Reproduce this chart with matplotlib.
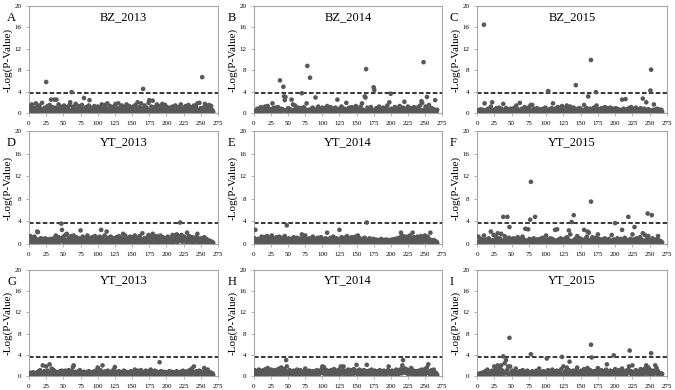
import matplotlib
matplotlib.use("Agg")
import matplotlib.pyplot as plt
import numpy as np

# -log10(p) per marker, marker index 1..268 along x (rows of 10)
panel_a = [
    0.8, 1.2, 0.3, 1.6, 0.5, 0.2, 1.0, 0.4, 0.7, 1.8,
    0.3, 1.1, 0.6, 0.2, 1.4, 0.9, 0.1, 0.5, 1.9, 0.4,
    0.7, 0.2, 1.0, 0.3, 5.8, 0.6, 1.3, 0.2, 0.9, 1.5,
    0.4, 2.5, 0.3, 1.1, 0.2, 0.7, 2.5, 0.5, 1.0, 2.5,
    0.3, 0.8, 1.6, 0.2, 0.5, 1.2, 0.4, 0.1, 0.9, 0.6,
    1.4, 0.3, 0.7, 0.2, 1.1, 0.5, 0.8, 0.3, 1.5, 2.0,
    0.4, 3.9, 0.6, 1.2, 0.2, 0.9, 0.3, 1.7, 0.5, 0.1,
    0.8, 1.3, 0.2, 0.6, 1.0, 0.3, 1.5, 0.4, 0.7, 2.8,
    0.2, 0.9, 1.1, 0.3, 0.6, 0.2, 1.4, 2.4, 0.5, 0.8,
    0.3, 1.0, 0.1, 0.6, 1.3, 0.4, 0.2, 0.9, 0.5, 1.2,
    0.3, 0.7, 1.1, 0.2, 0.5, 1.6, 0.4, 0.8, 0.2, 1.0,
    1.5, 0.3, 0.6, 1.8, 0.2, 0.9, 0.4, 1.3, 0.6, 0.1,
    0.8, 0.3, 1.2, 0.5, 0.2, 1.7, 0.4, 0.9, 0.3, 1.8,
    0.6, 0.2, 1.0, 0.4, 1.4, 0.7, 0.2, 0.5, 1.1, 0.3,
    0.9, 1.6, 0.2, 0.6, 0.4, 1.3, 0.3, 0.8, 0.5, 1.0,
    0.2, 1.2, 0.7, 0.3, 1.5, 0.4, 0.9, 2.0, 0.2, 0.6,
    1.1, 0.3, 1.8, 0.5, 0.8, 4.5, 0.4, 1.4, 0.2, 0.7,
    1.0, 0.3, 0.6, 1.9, 2.4, 0.5, 0.2, 1.2, 0.4, 2.3,
    0.7, 0.3, 1.1, 0.5, 0.2, 1.6, 0.8, 0.4, 1.0, 0.3,
    1.3, 0.6, 0.2, 1.7, 0.4, 0.9, 0.3, 1.5, 0.7, 0.2,
    1.1, 0.4, 0.8, 0.2, 0.6, 1.0, 0.3, 0.5, 1.2, 0.4,
    0.2, 0.7, 1.4, 0.3, 0.9, 0.5, 0.2, 1.1, 0.6, 0.3,
    1.6, 0.4, 0.8, 0.2, 1.0, 0.5, 0.3, 1.3, 0.7, 0.2,
    0.9, 1.5, 0.4, 0.6, 0.2, 1.1, 0.3, 0.8, 0.5, 1.4,
    0.3, 0.7, 1.2, 0.2, 1.8, 0.6, 0.4, 1.9, 0.3, 0.9,
    0.5, 6.7, 0.2, 1.0, 0.4, 1.7, 0.6, 0.3, 1.2, 0.8,
    0.4, 1.5, 0.2, 0.7, 1.3, 0.3, 0.5, 0.2,
]

panel_b = [
    0.3, 0.1, 0.5, 0.2, 0.8, 0.4, 0.1, 0.6, 0.3, 1.1,
    0.2, 0.5, 0.9, 0.1, 0.4, 1.2, 0.3, 0.6, 0.2, 1.3,
    0.4, 0.1, 0.7, 0.3, 0.5, 0.2, 1.8, 0.9, 0.1, 0.4,
    1.0, 0.2, 0.6, 0.3, 1.1, 0.1, 0.5, 6.1, 0.8, 0.2,
    0.4, 0.7, 4.9, 3.1, 2.4, 3.0, 0.3, 0.6, 0.2, 0.9,
    0.4, 0.1, 0.7, 0.3, 2.5, 0.5, 1.6, 0.2, 0.6, 1.4,
    0.3, 0.8, 0.1, 0.5, 1.0, 0.2, 0.6, 0.4, 0.9, 3.7,
    0.2, 0.5, 1.1, 0.3, 0.7, 0.1, 1.8, 8.8, 0.4, 0.6,
    0.3, 6.6, 0.2, 0.8, 0.5, 1.0, 0.1, 0.4, 0.7, 2.9,
    0.3, 0.6, 0.2, 1.2, 0.4, 0.1, 0.5, 0.8, 0.3, 1.0,
    0.2, 0.6, 0.4, 0.9, 0.1, 0.5, 1.3, 0.3, 0.7, 0.2,
    0.4, 1.1, 0.3, 0.6, 0.1, 0.8, 0.5, 0.2, 1.0, 0.4,
    0.7, 2.5, 0.3, 0.5, 0.1, 0.9, 0.4, 1.2, 0.2, 0.6,
    0.3, 0.8, 0.5, 0.1, 1.9, 0.4, 0.7, 0.2, 1.0, 0.3,
    0.6, 0.2, 1.1, 0.4, 0.1, 0.5, 0.9, 0.3, 1.3, 0.2,
    0.7, 0.4, 0.1, 0.8, 0.3, 1.2, 0.5, 1.8, 0.2, 0.6,
    0.4, 3.1, 2.9, 8.2, 0.3, 1.0, 0.5, 0.2, 0.8, 0.4,
    1.1, 0.3, 0.6, 0.2, 4.8, 4.3, 0.5, 0.1, 0.9, 0.4,
    0.7, 0.2, 1.2, 0.5, 0.3, 0.8, 0.1, 0.6, 1.0, 0.3,
    0.5, 0.2, 0.9, 0.4, 1.4, 0.1, 0.6, 2.0, 0.3, 3.6,
    0.8, 0.4, 0.1, 0.7, 0.3, 1.1, 0.5, 0.2, 0.9, 0.4,
    0.6, 0.2, 1.3, 0.4, 0.1, 0.8, 0.5, 1.0, 0.3, 2.1,
    0.4, 0.7, 0.2, 0.5, 1.2, 0.3, 0.1, 0.6, 0.9, 0.4,
    0.2, 0.8, 0.5, 1.1, 0.3, 0.6, 0.1, 0.4, 1.0, 0.2,
    0.7, 0.3, 1.4, 0.5, 2.2, 1.9, 0.4, 9.5, 0.6, 0.2,
    1.2, 0.3, 3.0, 0.8, 0.4, 1.5, 0.2, 0.6, 0.3, 0.9,
    0.5, 0.1, 0.7, 0.3, 2.4, 0.4, 0.2, 0.6,
]

panel_c = [
    0.2, 0.5, 0.1, 0.3, 0.7, 0.2, 0.4, 0.1, 0.6, 16.5,
    1.8, 0.3, 0.1, 0.5, 0.2, 0.8, 0.4, 0.1, 0.6, 1.2,
    0.3, 2.0, 0.2, 0.5, 0.1, 0.7, 0.4, 0.9, 0.2, 0.6,
    0.3, 1.0, 0.1, 0.5, 0.8, 0.2, 0.4, 1.7, 0.3, 0.6,
    0.1, 0.9, 0.4, 0.2, 0.7, 0.3, 0.5, 0.1, 0.8, 0.4,
    0.2, 0.6, 0.3, 1.0, 0.1, 0.5, 1.4, 0.2, 0.7, 0.4,
    0.3, 1.9, 0.5, 0.1, 0.8, 0.2, 0.6, 0.4, 1.1, 0.3,
    0.7, 0.2, 0.5, 0.9, 0.1, 1.2, 0.4, 1.5, 0.3, 1.5,
    0.6, 0.2, 0.8, 0.4, 0.1, 0.5, 0.9, 0.3, 0.6, 0.2,
    0.4, 0.7, 0.1, 0.5, 0.3, 0.8, 0.2, 0.6, 1.0, 0.4,
    0.2, 0.5, 4.1, 0.3, 0.7, 0.1, 0.4, 0.9, 0.2, 1.8,
    0.5, 0.3, 0.8, 0.1, 0.6, 0.4, 1.1, 0.2, 0.5, 0.3,
    0.7, 0.1, 1.3, 0.4, 0.2, 0.6, 0.9, 0.3, 0.5, 1.4,
    0.2, 0.8, 0.4, 0.1, 1.2, 0.6, 0.3, 0.7, 0.2, 1.0,
    0.5, 0.3, 5.2, 0.4, 0.1, 0.8, 0.6, 0.2, 0.9, 0.4,
    0.3, 0.6, 0.1, 0.5, 1.5, 0.2, 0.7, 0.4, 0.9, 0.3,
    3.1, 0.5, 0.2, 0.8, 9.9, 0.4, 0.6, 0.1, 1.0, 0.3,
    0.5, 3.9, 1.4, 0.2, 0.7, 0.4, 0.1, 0.6, 0.3, 0.9,
    0.2, 0.5, 0.8, 0.3, 1.1, 0.1, 0.6, 0.4, 0.9, 0.2,
    0.7, 0.3, 1.0, 0.5, 0.1, 0.4, 0.8, 0.2, 0.6, 0.3,
    0.9, 0.1, 0.5, 0.7, 0.3, 0.2, 0.6, 0.4, 0.1, 2.5,
    0.4, 0.8, 0.2, 0.5, 2.6, 0.3, 0.7, 0.1, 0.4, 0.9,
    0.2, 0.6, 1.1, 0.3, 0.5, 0.1, 0.8, 0.4, 0.2, 1.0,
    0.5, 0.3, 0.7, 0.1, 0.6, 0.4, 0.9, 0.2, 0.5, 2.7,
    0.3, 0.8, 0.1, 0.6, 2.0, 0.4, 0.2, 0.7, 0.3, 0.5,
    4.2, 8.1, 0.4, 0.2, 0.6, 1.6, 0.3, 0.1, 0.5, 0.8,
    0.2, 0.4, 0.7, 0.3, 0.5, 0.1, 0.6, 0.2,
]

panel_d = [
    0.5, 1.4, 0.2, 0.8, 1.1, 0.3, 0.6, 1.3, 0.4, 0.9,
    0.2, 2.2, 2.1, 0.5, 0.8, 0.3, 1.0, 0.6, 0.2, 0.9,
    0.4, 0.7, 0.3, 1.0, 0.5, 0.2, 0.8, 0.4, 0.6, 0.3,
    0.9, 0.2, 0.5, 0.7, 0.3, 1.0, 0.4, 0.6, 1.5, 0.2,
    0.8, 0.4, 1.2, 0.3, 0.6, 1.0, 3.6, 2.5, 0.5, 1.3,
    0.3, 0.8, 1.6, 0.4, 1.8, 0.2, 0.7, 1.1, 0.5, 0.3,
    1.4, 0.6, 0.2, 0.9, 1.5, 0.4, 0.7, 0.3, 1.2, 0.5,
    0.8, 0.2, 1.0, 0.4, 2.4, 0.6, 0.3, 1.3, 0.5, 0.9,
    0.2, 1.1, 0.4, 0.7, 1.5, 0.3, 0.6, 1.0, 0.2, 0.8,
    0.5, 1.2, 0.3, 0.7, 0.4, 1.4, 0.2, 0.9, 0.6, 1.1,
    0.3, 0.8, 1.3, 0.5, 2.5, 0.2, 1.0, 0.6, 0.4, 1.5,
    0.7, 0.3, 2.2, 0.5, 1.1, 0.2, 0.8, 0.4, 1.3, 0.6,
    0.3, 0.9, 0.5, 1.0, 0.2, 0.7, 1.2, 0.4, 0.8, 0.3,
    1.4, 0.6, 0.2, 1.1, 0.5, 0.9, 1.8, 0.3, 0.7, 1.5,
    0.4, 0.8, 0.2, 1.0, 0.6, 0.3, 1.3, 0.5, 0.9, 0.2,
    1.2, 0.4, 0.7, 1.5, 0.3, 0.8, 0.5, 1.1, 0.2, 0.6,
    1.4, 0.4, 0.9, 0.3, 1.9, 0.6, 0.2, 1.0, 0.5, 0.8,
    0.3, 1.2, 0.6, 1.6, 0.4, 0.9, 0.2, 1.3, 0.7, 1.8,
    0.5, 1.0, 0.3, 0.8, 1.4, 0.2, 0.6, 1.1, 0.4, 0.9,
    1.5, 0.3, 0.7, 0.5, 1.2, 0.2, 0.8, 0.4, 1.0, 0.6,
    0.3, 1.3, 0.5, 0.9, 0.2, 1.1, 0.7, 0.4, 1.6, 0.3,
    0.8, 1.5, 0.5, 1.0, 1.7, 0.3, 1.2, 0.6, 1.4, 3.8,
    0.9, 1.6, 0.4, 1.1, 0.7, 1.3, 0.5, 0.8, 0.3, 2.0,
    1.0, 0.6, 1.4, 0.4, 0.9, 0.2, 1.2, 0.7, 0.5, 1.1,
    0.3, 0.8, 0.6, 1.3, 1.8, 0.4, 0.9, 0.2, 0.7, 1.0,
    0.5, 0.3, 0.8, 0.6, 1.2, 0.4, 0.2, 0.9, 0.5, 0.7,
    0.3, 0.6, 0.4, 0.5, 0.2, 0.4, 0.3, 0.2,
]

panel_e = [
    1.0, 2.5, 0.3, 0.6, 0.2, 0.9, 0.4, 0.7, 0.1, 0.5,
    1.3, 0.3, 0.8, 0.2, 1.2, 0.5, 0.1, 0.6, 1.4, 0.3,
    0.7, 0.2, 1.1, 0.4, 0.6, 1.5, 0.2, 0.8, 0.3, 1.0,
    0.5, 0.1, 1.2, 0.4, 0.7, 0.3, 1.3, 0.2, 0.6, 0.9,
    0.4, 1.1, 0.2, 0.6, 1.4, 0.3, 0.8, 3.3, 0.5, 0.2,
    1.0, 0.4, 0.7, 0.1, 0.9, 0.5, 0.3, 1.2, 0.6, 0.2,
    0.8, 0.4, 1.1, 0.3, 0.5, 0.9, 0.2, 0.6, 1.0, 1.7,
    0.3, 0.7, 0.2, 1.2, 1.5, 0.4, 0.8, 0.1, 0.6, 0.3,
    1.0, 0.5, 0.2, 0.8, 0.4, 1.3, 0.3, 0.6, 0.1, 0.9,
    0.4, 0.7, 1.1, 0.2, 0.5, 0.8, 0.3, 1.2, 0.6, 0.2,
    0.9, 0.4, 0.7, 0.1, 1.0, 0.5, 2.0, 0.3, 0.8, 0.6,
    0.2, 1.1, 0.4, 0.7, 0.3, 1.3, 0.5, 0.9, 0.2, 0.6,
    1.0, 0.3, 0.8, 0.4, 2.5, 0.6, 0.2, 1.2, 0.5, 0.9,
    0.3, 0.7, 1.1, 0.2, 0.6, 1.4, 0.4, 0.8, 0.1, 1.0,
    0.5, 0.3, 1.2, 0.7, 0.2, 0.9, 0.4, 1.3, 0.6, 0.3,
    0.8, 1.5, 0.2, 0.5, 1.0, 0.4, 0.7, 0.1, 0.9, 0.6,
    0.3, 1.1, 0.5, 0.8, 3.8, 0.2, 0.6, 0.4, 1.0, 0.3,
    0.7, 0.2, 0.5, 0.9, 0.3, 0.6, 0.1, 0.8, 0.4, 0.5,
    0.2, 0.7, 0.4, 0.6, 0.3, 0.9, 0.1, 0.5, 0.7, 0.2,
    0.6, 0.4, 0.8, 0.3, 0.5, 0.1, 0.7, 0.4, 0.6, 0.2,
    0.5, 0.8, 0.3, 0.6, 0.2, 0.9, 0.4, 0.7, 0.3, 1.0,
    0.5, 0.2, 0.8, 1.2, 2.0, 0.4, 0.7, 1.4, 0.3, 0.9,
    1.1, 0.5, 1.3, 0.2, 0.8, 1.0, 0.4, 1.5, 0.6, 0.3,
    0.9, 2.0, 0.5, 1.2, 0.3, 0.7, 1.0, 0.4, 1.3, 0.6,
    0.2, 1.1, 0.5, 1.4, 0.8, 0.3, 1.2, 0.6, 0.9, 1.5,
    0.4, 1.0, 0.7, 1.3, 0.5, 0.2, 0.8, 2.0, 0.3, 0.6,
    0.4, 0.2, 0.7, 0.3, 0.5, 0.1, 0.4, 0.2,
]

panel_f = [
    0.3, 1.3, 0.1, 0.6, 0.2, 0.9, 0.4, 0.1, 0.7, 1.5,
    0.2, 0.5, 0.8, 0.1, 0.4, 0.3, 1.0, 0.2, 0.6, 2.2,
    0.4, 0.1, 0.7, 1.6, 0.3, 0.5, 0.2, 1.2, 0.4, 1.9,
    0.6, 0.2, 1.0, 0.3, 1.8, 0.5, 0.1, 4.8, 0.7, 1.4,
    0.3, 0.8, 0.2, 4.8, 0.5, 1.1, 3.0, 0.4, 0.9, 0.2,
    0.6, 0.3, 1.0, 0.1, 0.5, 0.8, 0.2, 0.7, 1.2, 0.4,
    0.1, 0.6, 0.9, 0.3, 0.5, 1.3, 0.2, 0.8, 0.4, 2.7,
    0.3, 0.6, 0.1, 2.6, 0.5, 0.9, 4.3, 11.0, 0.2, 0.7,
    0.4, 1.0, 0.3, 4.8, 0.6, 0.1, 0.8, 0.4, 0.2, 0.5,
    0.9, 0.3, 0.6, 0.1, 1.1, 0.4, 0.2, 0.7, 0.5, 1.5,
    0.3, 0.8, 0.1, 0.6, 0.4, 1.0, 0.2, 0.5, 0.9, 0.3,
    0.7, 0.1, 2.5, 0.4, 0.6, 2.6, 0.3, 0.8, 0.2, 0.5,
    1.0, 0.4, 0.1, 0.7, 0.3, 0.9, 0.5, 0.2, 0.6, 1.2,
    0.4, 0.8, 2.4, 0.3, 1.7, 0.5, 3.9, 0.2, 0.6, 5.1,
    0.3, 0.9, 0.1, 0.5, 1.4, 0.7, 0.2, 0.4, 1.0, 0.6,
    0.3, 0.8, 0.1, 0.5, 2.5, 0.4, 0.9, 0.2, 1.3, 2.2,
    0.6, 2.0, 0.3, 0.7, 7.5, 0.4, 1.2, 0.1, 0.5, 0.8,
    0.3, 1.1, 0.6, 0.2, 1.7, 0.4, 0.9, 0.1, 0.5, 0.7,
    0.3, 0.8, 0.2, 0.6, 1.0, 0.4, 0.1, 0.7, 0.5, 0.3,
    0.9, 0.2, 0.6, 0.4, 1.6, 0.1, 0.5, 0.8, 0.3, 3.7,
    0.6, 0.2, 1.0, 0.4, 0.7, 0.1, 0.5, 0.9, 0.3, 2.5,
    0.4, 0.8, 0.2, 1.1, 0.5, 0.3, 0.7, 0.1, 4.8, 0.6,
    0.3, 0.9, 0.5, 0.2, 1.7, 0.4, 0.8, 3.0, 0.6, 0.2,
    1.0, 0.4, 0.7, 0.1, 0.5, 1.2, 0.3, 0.8, 0.4, 1.9,
    0.6, 0.2, 1.6, 0.5, 0.3, 0.9, 5.4, 1.4, 0.4, 0.7,
    0.2, 0.6, 5.1, 1.0, 0.3, 0.8, 0.5, 0.1, 0.7, 0.4,
    0.9, 1.4, 0.3, 0.6, 0.2, 0.5, 0.1, 0.3,
]

panel_g = [
    0.5, 0.3, 0.6, 0.2, 0.4, 0.7, 0.3, 0.5, 0.2, 0.4,
    0.6, 0.3, 0.8, 0.2, 0.5, 1.1, 0.4, 0.7, 0.3, 2.0,
    0.5, 0.9, 0.2, 0.6, 1.8, 0.4, 1.0, 0.3, 0.7, 2.2,
    0.5, 0.8, 1.4, 0.3, 0.6, 1.1, 0.2, 0.5, 0.8, 0.4,
    0.3, 0.7, 0.5, 0.2, 0.9, 0.4, 0.6, 1.0, 0.3, 0.5,
    0.8, 0.2, 1.0, 0.4, 0.6, 0.9, 0.3, 1.1, 0.5, 0.7,
    0.4, 1.0, 0.6, 1.7, 2.0, 0.3, 0.8, 0.5, 0.2, 0.6,
    0.4, 0.9, 0.3, 1.1, 0.5, 0.7, 0.2, 0.6, 0.4, 0.8,
    0.3, 0.5, 0.7, 0.2, 0.6, 0.4, 0.9, 0.3, 0.5, 0.7,
    0.4, 0.6, 0.2, 0.8, 0.5, 0.3, 1.0, 0.4, 0.6, 1.6,
    0.3, 0.7, 0.5, 1.1, 0.4, 0.6, 2.0, 0.2, 0.8, 0.5,
    0.3, 0.9, 0.6, 0.4, 1.0, 0.2, 0.7, 0.5, 0.3, 0.8,
    0.6, 0.4, 1.2, 0.3, 1.7, 0.5, 0.8, 0.2, 0.6, 0.4,
    0.9, 0.3, 0.5, 0.7, 0.2, 0.6, 0.4, 1.0, 0.3, 0.5,
    0.8, 0.4, 0.6, 0.2, 0.7, 0.5, 0.3, 0.9, 0.4, 0.6,
    0.2, 0.8, 0.5, 1.2, 0.3, 0.7, 0.4, 1.0, 0.6, 0.3,
    0.9, 0.5, 1.1, 0.2, 0.7, 0.4, 0.6, 0.3, 0.8, 1.0,
    0.5, 0.3, 0.7, 0.4, 0.9, 0.2, 1.2, 0.6, 0.3, 0.8,
    0.4, 0.6, 1.0, 0.3, 0.5, 0.8, 0.2, 0.7, 0.4, 2.6,
    0.6, 0.9, 0.3, 0.5, 0.7, 0.4, 0.8, 0.2, 0.6, 0.5,
    0.3, 0.7, 0.5, 0.9, 0.4, 0.6, 0.2, 0.8, 0.5, 0.3,
    0.7, 0.4, 0.6, 0.2, 0.9, 0.5, 0.3, 0.7, 0.4, 0.6,
    0.8, 0.3, 0.5, 1.0, 0.4, 0.6, 0.2, 0.8, 0.5, 0.3,
    0.9, 0.4, 0.6, 1.1, 0.3, 0.7, 1.4, 0.5, 0.8, 1.8,
    0.4, 0.6, 0.3, 0.9, 0.5, 0.7, 0.2, 1.0, 0.4, 0.6,
    0.8, 0.3, 0.5, 0.7, 1.5, 0.4, 0.6, 0.2, 0.9, 1.2,
    0.5, 0.3, 0.7, 0.4, 0.6, 0.3, 0.5, 0.2,
]

panel_h = [
    1.1, 0.4, 0.7, 0.2, 0.9, 0.5, 1.2, 0.3, 0.6, 1.0,
    0.4, 0.8, 0.2, 1.1, 0.5, 0.7, 1.3, 0.3, 0.6, 1.5,
    0.4, 1.0, 0.2, 0.7, 1.2, 0.5, 0.3, 0.9, 0.6, 1.1,
    0.4, 0.8, 0.3, 1.2, 0.5, 0.7, 1.4, 0.2, 0.6, 1.6,
    1.0, 0.4, 0.7, 1.3, 0.3, 0.9, 3.0, 1.8, 0.5, 0.8,
    0.3, 1.1, 0.6, 0.4, 0.9, 0.2, 0.7, 1.0, 0.5, 0.3,
    0.8, 0.4, 1.2, 0.6, 0.3, 0.9, 0.5, 1.1, 0.2, 0.7,
    0.4, 0.8, 0.6, 0.3, 1.4, 0.5, 0.9, 0.2, 0.7, 0.4,
    1.0, 0.3, 0.6, 0.8, 0.2, 0.5, 0.9, 0.4, 0.7, 0.3,
    0.6, 1.1, 0.4, 0.8, 0.3, 0.5, 1.0, 0.7, 1.3, 1.8,
    0.5, 1.7, 0.9, 0.4, 1.2, 0.6, 0.3, 1.0, 0.7, 0.5,
    0.9, 0.3, 1.1, 0.6, 0.4, 0.8, 1.3, 0.5, 0.7, 0.2,
    1.0, 0.6, 0.4, 1.2, 0.7, 0.3, 1.8, 0.9, 0.5, 1.1,
    1.8, 0.4, 0.8, 0.6, 1.0, 0.3, 0.7, 1.2, 0.5, 0.9,
    0.4, 1.1, 0.6, 0.3, 0.8, 1.3, 0.5, 0.7, 1.0, 2.1,
    0.4, 0.9, 0.6, 1.2, 0.3, 0.7, 1.0, 0.5, 0.8, 0.4,
    1.1, 0.6, 0.9, 0.3, 2.1, 0.7, 0.5, 1.0, 0.4, 0.8,
    0.6, 1.2, 0.3, 0.9, 0.5, 0.7, 1.0, 0.4, 0.8, 0.6,
    0.3, 0.9, 0.5, 1.1, 0.4, 0.7, 0.2, 0.8, 0.6, 1.0,
    0.4, 0.7, 0.3, 0.9, 0.5, 1.1, 1.8, 0.6, 0.4, 0.8,
    0.5, 1.0, 0.3, 0.7, 0.6, 0.9, 0.4, 1.2, 0.5, 0.8,
    0.3, 1.1, 0.6, 0.9, 1.3, 0.5, 2.0, 3.0, 0.7, 1.0,
    1.4, 0.6, 0.9, 1.2, 0.4, 0.8, 1.1, 0.5, 0.7, 1.5,
    0.3, 0.8, 0.6, 1.0, 0.4, 0.7, 0.5, 0.9, 0.3, 0.6,
    1.0, 0.4, 0.8, 0.6, 1.2, 0.3, 0.7, 0.5, 0.9, 1.3,
    0.4, 0.8, 1.6, 0.6, 2.2, 0.5, 0.9, 0.3, 0.7, 1.1,
    0.4, 0.8, 1.2, 0.5, 0.3, 0.6, 0.4, 0.2,
]

panel_i = [
    0.2, 0.4, 0.1, 0.3, 0.5, 0.2, 0.6, 0.1, 0.4, 0.7,
    0.3, 0.9, 0.2, 0.5, 1.2, 0.4, 0.1, 0.6, 0.8, 0.3,
    0.5, 1.0, 0.2, 0.7, 1.8, 0.4, 1.3, 0.6, 0.3, 2.0,
    0.9, 0.5, 1.5, 0.3, 2.0, 1.1, 0.6, 3.7, 0.4, 2.4,
    0.8, 3.0, 0.5, 1.2, 1.8, 0.3, 7.2, 1.8, 0.6, 0.4,
    1.0, 0.2, 0.5, 0.8, 0.3, 1.4, 0.4, 0.1, 0.7, 0.5,
    0.3, 0.9, 0.2, 0.6, 0.4, 1.1, 0.3, 0.5, 0.8, 0.2,
    0.6, 0.4, 1.0, 0.3, 0.7, 0.5, 0.2, 4.1, 0.6, 0.9,
    0.3, 0.5, 0.1, 0.7, 0.4, 1.0, 0.2, 0.6, 0.3, 1.4,
    0.5, 0.2, 0.8, 0.4, 0.6, 0.1, 0.9, 0.3, 0.5, 0.7,
    3.3, 0.4, 1.1, 0.2, 0.6, 0.8, 0.3, 0.5, 1.2, 0.4,
    0.7, 0.2, 0.9, 0.5, 0.3, 1.0, 0.6, 0.1, 0.4, 0.8,
    0.5, 1.3, 3.6, 0.3, 1.8, 0.6, 0.2, 0.9, 0.4, 1.6,
    0.7, 0.3, 1.1, 2.7, 0.5, 0.8, 0.2, 0.6, 1.0, 0.4,
    0.3, 0.7, 0.5, 1.2, 1.6, 0.4, 0.2, 0.8, 0.6, 0.3,
    1.0, 0.5, 0.2, 0.7, 1.3, 0.4, 0.9, 0.3, 0.6, 1.5,
    0.4, 0.8, 0.2, 1.1, 5.9, 3.5, 0.6, 0.3, 0.9, 0.5,
    0.7, 0.2, 1.0, 0.4, 1.5, 0.6, 0.3, 0.8, 0.5, 1.1,
    0.3, 0.7, 0.4, 0.9, 0.2, 0.6, 1.2, 2.2, 0.5, 0.8,
    0.3, 0.6, 1.0, 0.4, 0.7, 0.2, 0.9, 3.9, 0.5, 1.3,
    0.4, 0.8, 0.2, 0.6, 1.1, 0.3, 0.7, 0.5, 0.9, 1.4,
    0.3, 0.6, 0.2, 0.8, 0.5, 1.0, 0.4, 0.7, 1.2, 1.8,
    4.8, 0.5, 0.9, 0.3, 2.0, 0.6, 0.2, 0.8, 0.4, 1.1,
    0.5, 0.3, 0.7, 0.9, 0.2, 0.6, 1.3, 0.4, 0.8, 1.0,
    0.3, 0.7, 1.4, 0.5, 2.0, 0.9, 0.4, 1.6, 0.6, 1.2,
    0.3, 4.3, 0.8, 0.5, 1.0, 0.4, 0.7, 2.0, 0.6, 1.5,
    0.4, 0.9, 0.3, 0.6, 0.2, 0.5, 0.3, 0.4,
]

letters = ["A", "B", "C", "D", "E", "F", "G", "H", "I"]
titles = ["BZ_2013", "BZ_2014", "BZ_2015",
          "YT_2013", "YT_2014", "YT_2015",
          "YT_2013", "YT_2014", "YT_2015"]
panels = [panel_a, panel_b, panel_c, panel_d, panel_e,
          panel_f, panel_g, panel_h, panel_i]
threshold = 3.67

plt.rcParams['font.family'] = ['Liberation Serif', 'DejaVu Serif']

W, H = 675, 390
fig = plt.figure(figsize=(W / 100, H / 100), dpi=100)

# axes boxes in pixels: (left, right), (top, bottom)
cols = [(29, 218), (254, 442), (477, 667)]
rows = [(6, 113), (131, 244), (270, 376)]
letter_x = [7, 228, 450]

grey = "#a6a6a6"
for k, vals in enumerate(panels):
    r, c = divmod(k, 3)
    x0, x1 = cols[c]
    y0, y1 = rows[r]
    ax = fig.add_axes([x0 / W, 1 - y1 / H, (x1 - x0) / W, (y1 - y0) / H])

    x = np.arange(1, len(vals) + 1)
    ax.scatter(x, vals, s=11, color="#585858", edgecolors="none", zorder=3)
    ax.axhline(threshold, color="black", lw=1.1, ls=(0, (3, 1.5)), zorder=2)

    ax.set_xlim(0, 275)
    ax.set_ylim(0, 20)
    ax.set_xticks(np.arange(0, 276, 25))
    ax.set_yticks(np.arange(0, 21, 4))
    ax.tick_params(labelsize=5, length=2, width=0.6, color=grey, pad=3.5)
    for sp in ax.spines.values():
        sp.set_color(grey)
        sp.set_linewidth(0.8)

    ax.set_ylabel("-Log(P-Value)", fontsize=8)
    ax.yaxis.set_label_coords(-17 / (x1 - x0) + 0.005, 0.5)
    ax.text(0.5, 0.9, titles[k], transform=ax.transAxes, ha="center",
            va="center", fontsize=9)
    fig.text(letter_x[c] / W, 1 - (y0 + 12) / H, letters[k], fontsize=9,
             ha="left", va="center")

fig.savefig("out.png", dpi=100)
